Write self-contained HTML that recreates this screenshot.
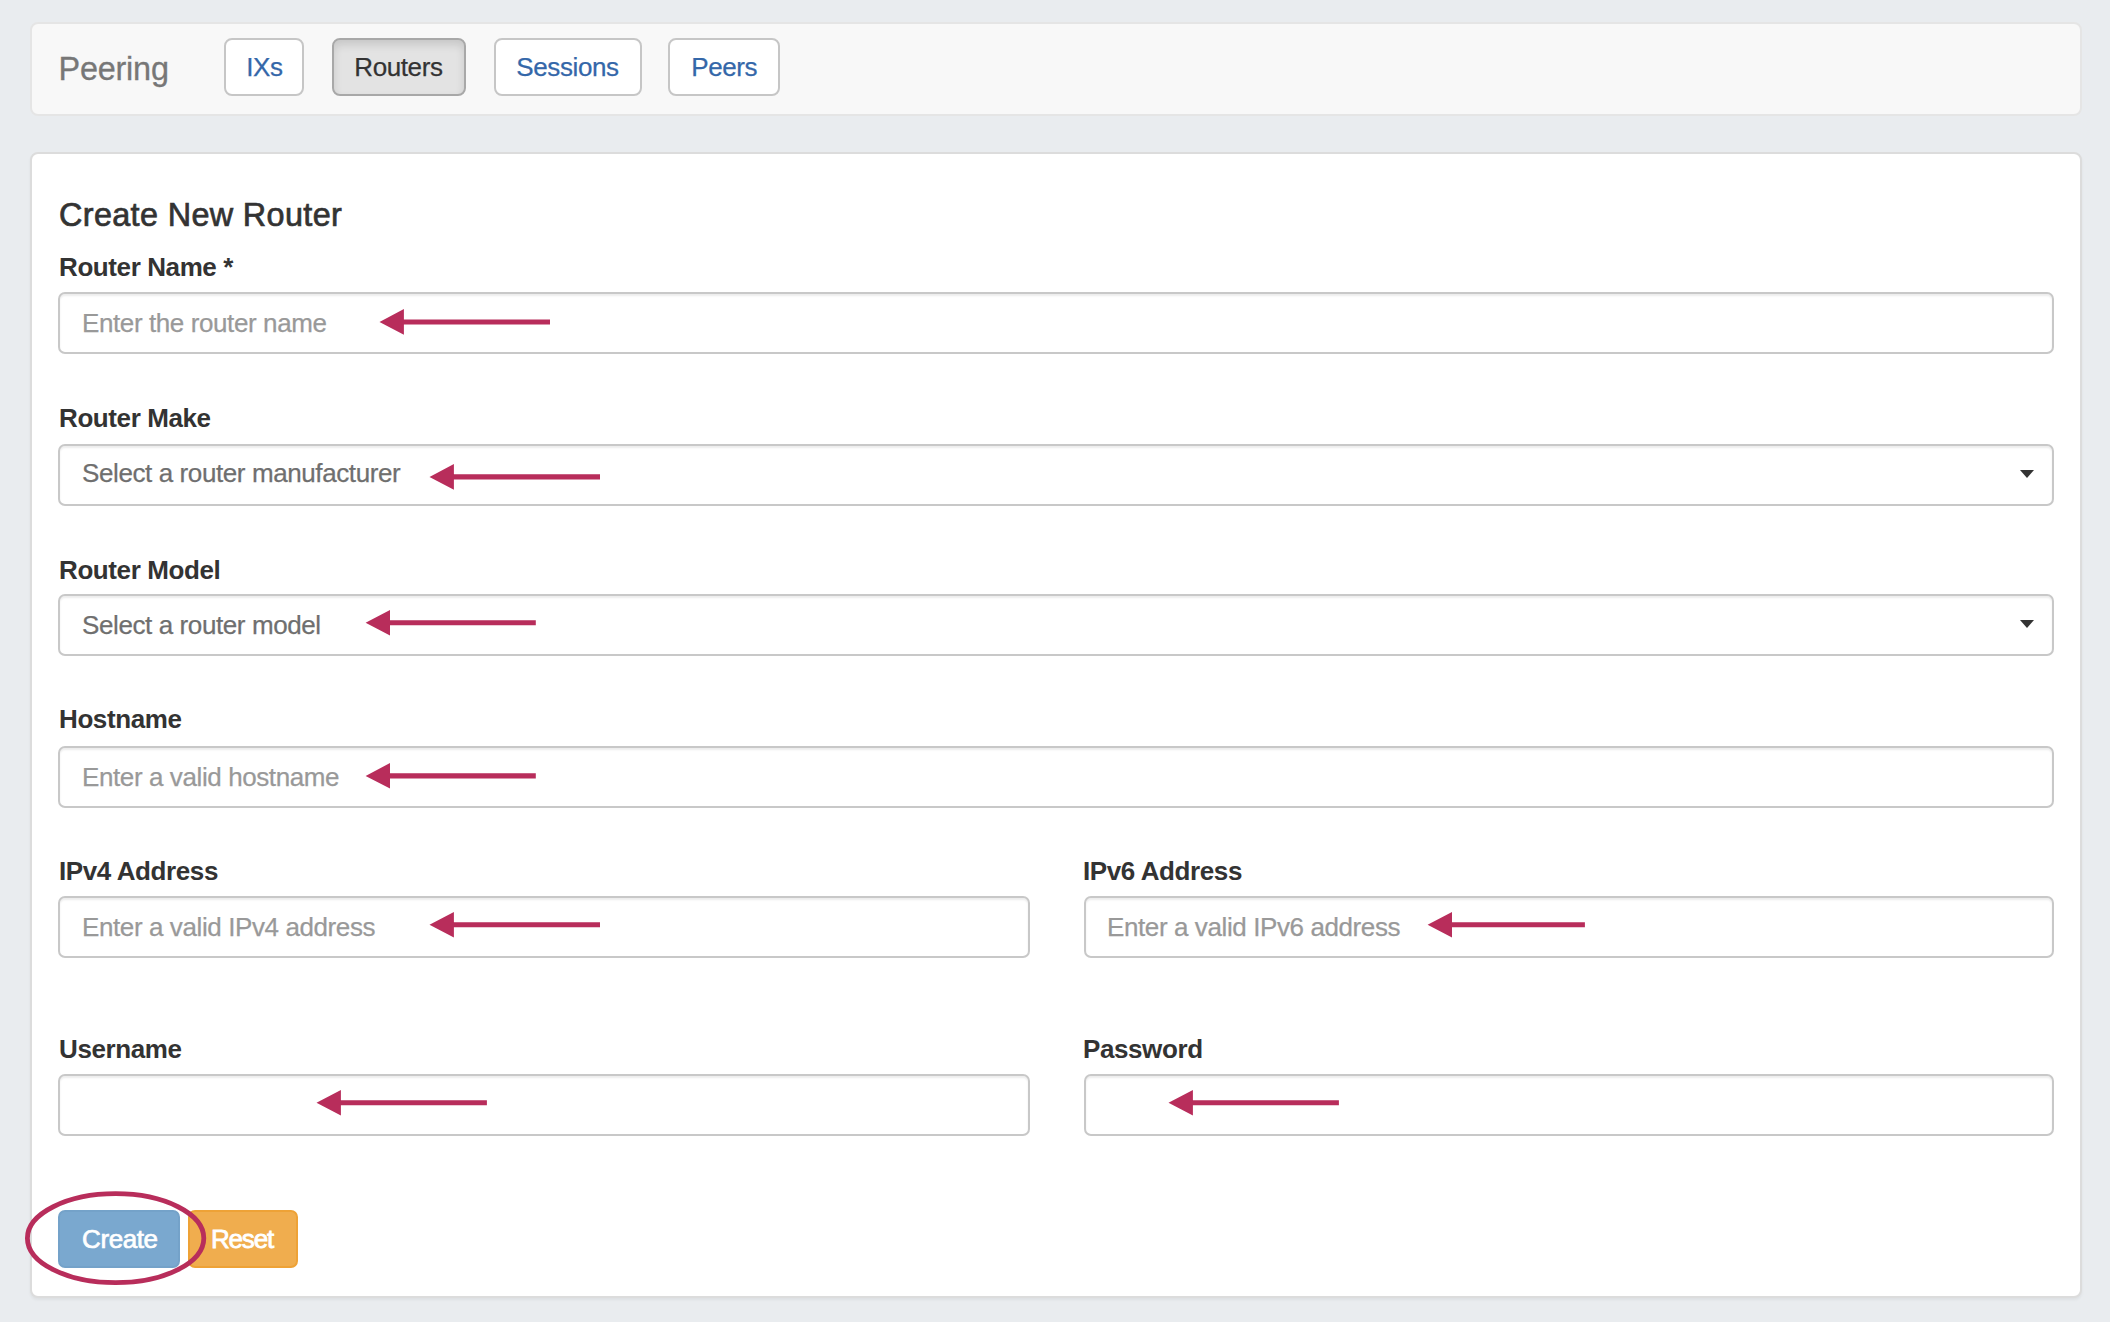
<!DOCTYPE html>
<html>
<head>
<meta charset="utf-8">
<style>
html,body{margin:0;padding:0;}
body{width:2110px;height:1322px;background:#e9ecef;position:relative;overflow:hidden;font-family:"Liberation Sans",sans-serif;}
.abs{position:absolute;}
.nav{left:30px;top:22px;width:2048px;height:90px;background:#f8f8f8;border:2px solid #e5e5e5;border-radius:8px;}
.card{left:30px;top:152px;width:2048px;height:1142px;background:#fff;border:2px solid #dcdcdc;border-radius:8px;box-shadow:0 2px 3px rgba(0,0,0,.05);}
.t{position:absolute;white-space:nowrap;line-height:1em;}
.brand{font-size:32.4px;color:#777;-webkit-text-stroke:0.3px #777;letter-spacing:-0.2px;}
.nbtn{position:absolute;box-sizing:border-box;border:2px solid #c6c6c6;border-radius:8px;background:#fff;}
.nbtn.active{background:#e3e3e3;border-color:#a8a8a8;box-shadow:inset 0 5px 9px rgba(0,0,0,.12);}
.ntxt{font-size:26px;letter-spacing:-0.4px;color:#3467a9;-webkit-text-stroke:0.25px currentColor;}
.h{font-size:32.4px;color:#333;-webkit-text-stroke:0.7px #333;letter-spacing:0.35px;}
.lbl{font-size:26px;letter-spacing:-0.4px;font-weight:bold;color:#333;}
.inp{position:absolute;box-sizing:border-box;border:2px solid #c8c8c8;border-radius:7px;background:#fff;box-shadow:inset 0 2px 2px rgba(0,0,0,.075);height:62px;}
.ph{font-size:26px;letter-spacing:-0.4px;color:#999;-webkit-text-stroke:0.25px #999;}
.sel{font-size:26px;letter-spacing:-0.4px;color:#6f6f6f;-webkit-text-stroke:0.25px #6f6f6f;}
.btn{position:absolute;box-sizing:border-box;border-radius:7px;}
.btxt{font-size:26px;letter-spacing:-0.4px;color:#fff;-webkit-text-stroke:0.7px #fff;}
svg{position:absolute;left:0;top:0;}
</style>
</head>
<body>
<div class="abs nav"></div>
<div class="nbtn" style="left:224px;top:38px;width:80px;height:58px;"></div>
<div class="nbtn active" style="left:332px;top:38px;width:134px;height:58px;"></div>
<div class="nbtn" style="left:494px;top:38px;width:148px;height:58px;"></div>
<div class="nbtn" style="left:668px;top:38px;width:112px;height:58px;"></div>
<div class="abs card"></div>
<div class="inp" style="left:58px;top:292px;width:1996px;"></div>
<div class="inp" style="left:58px;top:444px;width:1996px;"></div>
<div class="inp" style="left:58px;top:594px;width:1996px;"></div>
<div class="inp" style="left:58px;top:746px;width:1996px;"></div>
<div class="inp" style="left:58px;top:896px;width:972px;"></div>
<div class="inp" style="left:1084px;top:896px;width:970px;"></div>
<div class="inp" style="left:58px;top:1074px;width:972px;"></div>
<div class="inp" style="left:1084px;top:1074px;width:970px;"></div>
<div class="btn" style="left:58px;top:1210px;width:122px;height:58px;background:#7aa8cf;border:2px solid #74a2c9;"></div>
<div class="btn" style="left:188px;top:1210px;width:110px;height:58px;background:#f0ad4e;border:2px solid #eea236;"></div>
<div class="t brand" style="left:58.50px;top:53.00px;">Peering</div>
<div class="t ntxt" style="left:246.30px;top:53.50px;">IXs</div>
<div class="t ntxt" style="left:354.30px;top:53.50px;color:#333;">Routers</div>
<div class="t ntxt" style="left:516.30px;top:53.50px;">Sessions</div>
<div class="t ntxt" style="left:691.30px;top:53.50px;">Peers</div>
<div class="t h" style="left:59.00px;top:199.00px;">Create New Router</div>
<div class="t lbl" style="left:59.00px;top:253.50px;">Router Name *</div>
<div class="t ph" style="left:82.00px;top:310.00px;">Enter the router name</div>
<div class="t lbl" style="left:59.00px;top:405.00px;">Router Make</div>
<div class="t sel" style="left:82.00px;top:460.00px;">Select a router manufacturer</div>
<div class="t lbl" style="left:59.00px;top:557.00px;">Router Model</div>
<div class="t sel" style="left:82.00px;top:612.00px;">Select a router model</div>
<div class="t lbl" style="left:59.00px;top:706.00px;">Hostname</div>
<div class="t ph" style="left:82.00px;top:764.30px;">Enter a valid hostname</div>
<div class="t lbl" style="left:59.00px;top:858.00px;">IPv4 Address</div>
<div class="t ph" style="left:82.00px;top:914.00px;">Enter a valid IPv4 address</div>
<div class="t lbl" style="left:1083.00px;top:858.00px;">IPv6 Address</div>
<div class="t ph" style="left:1107.00px;top:914.00px;">Enter a valid IPv6 address</div>
<div class="t lbl" style="left:59.00px;top:1036.00px;">Username</div>
<div class="t lbl" style="left:1083.00px;top:1036.00px;">Password</div>
<div class="t btxt" style="left:82.00px;top:1226.00px;">Create</div>
<div class="t btxt" style="left:211.00px;top:1225.50px;letter-spacing:-1.2px;-webkit-text-stroke:0.8px #fff;">Reset</div>
<svg width="2110" height="1322" viewBox="0 0 2110 1322">
<path d="M2020 470 L2034 470 L2027 478 Z" fill="#333"/>
<path d="M2020 620 L2034 620 L2027 628 Z" fill="#333"/>
<g fill="#b82d5b">
<path d="M379.5 321.9 L403.9 309.1 L403.9 319.4 L550.0 319.4 L550.0 324.5 L403.9 324.5 L403.9 334.8 Z"/>
<path d="M429.5 476.9 L453.9 464.1 L453.9 474.3 L600.0 474.3 L600.0 479.4 L453.9 479.4 L453.9 489.7 Z"/>
<path d="M365.6 622.8 L390.0 610.0 L390.0 620.2 L535.8 620.2 L535.8 625.3 L390.0 625.3 L390.0 635.5 Z"/>
<path d="M365.6 775.9 L390.0 763.1 L390.0 773.3 L535.8 773.3 L535.8 778.4 L390.0 778.4 L390.0 788.6 Z"/>
<path d="M429.5 924.8 L453.9 912.0 L453.9 922.2 L600.0 922.2 L600.0 927.3 L453.9 927.3 L453.9 937.5 Z"/>
<path d="M1427.6 924.8 L1452.0 912.0 L1452.0 922.2 L1584.9 922.2 L1584.9 927.3 L1452.0 927.3 L1452.0 937.5 Z"/>
<path d="M316.5 1102.8 L340.9 1090.0 L340.9 1100.2 L486.9 1100.2 L486.9 1105.3 L340.9 1105.3 L340.9 1115.5 Z"/>
<path d="M1168.5 1102.8 L1192.9 1090.0 L1192.9 1100.2 L1338.9 1100.2 L1338.9 1105.3 L1192.9 1105.3 L1192.9 1115.5 Z"/>
</g>
<ellipse cx="115.6" cy="1238.2" rx="88.2" ry="44.5" fill="none" stroke="#b82d5b" stroke-width="4.8"/>
</svg>
</body>
</html>
